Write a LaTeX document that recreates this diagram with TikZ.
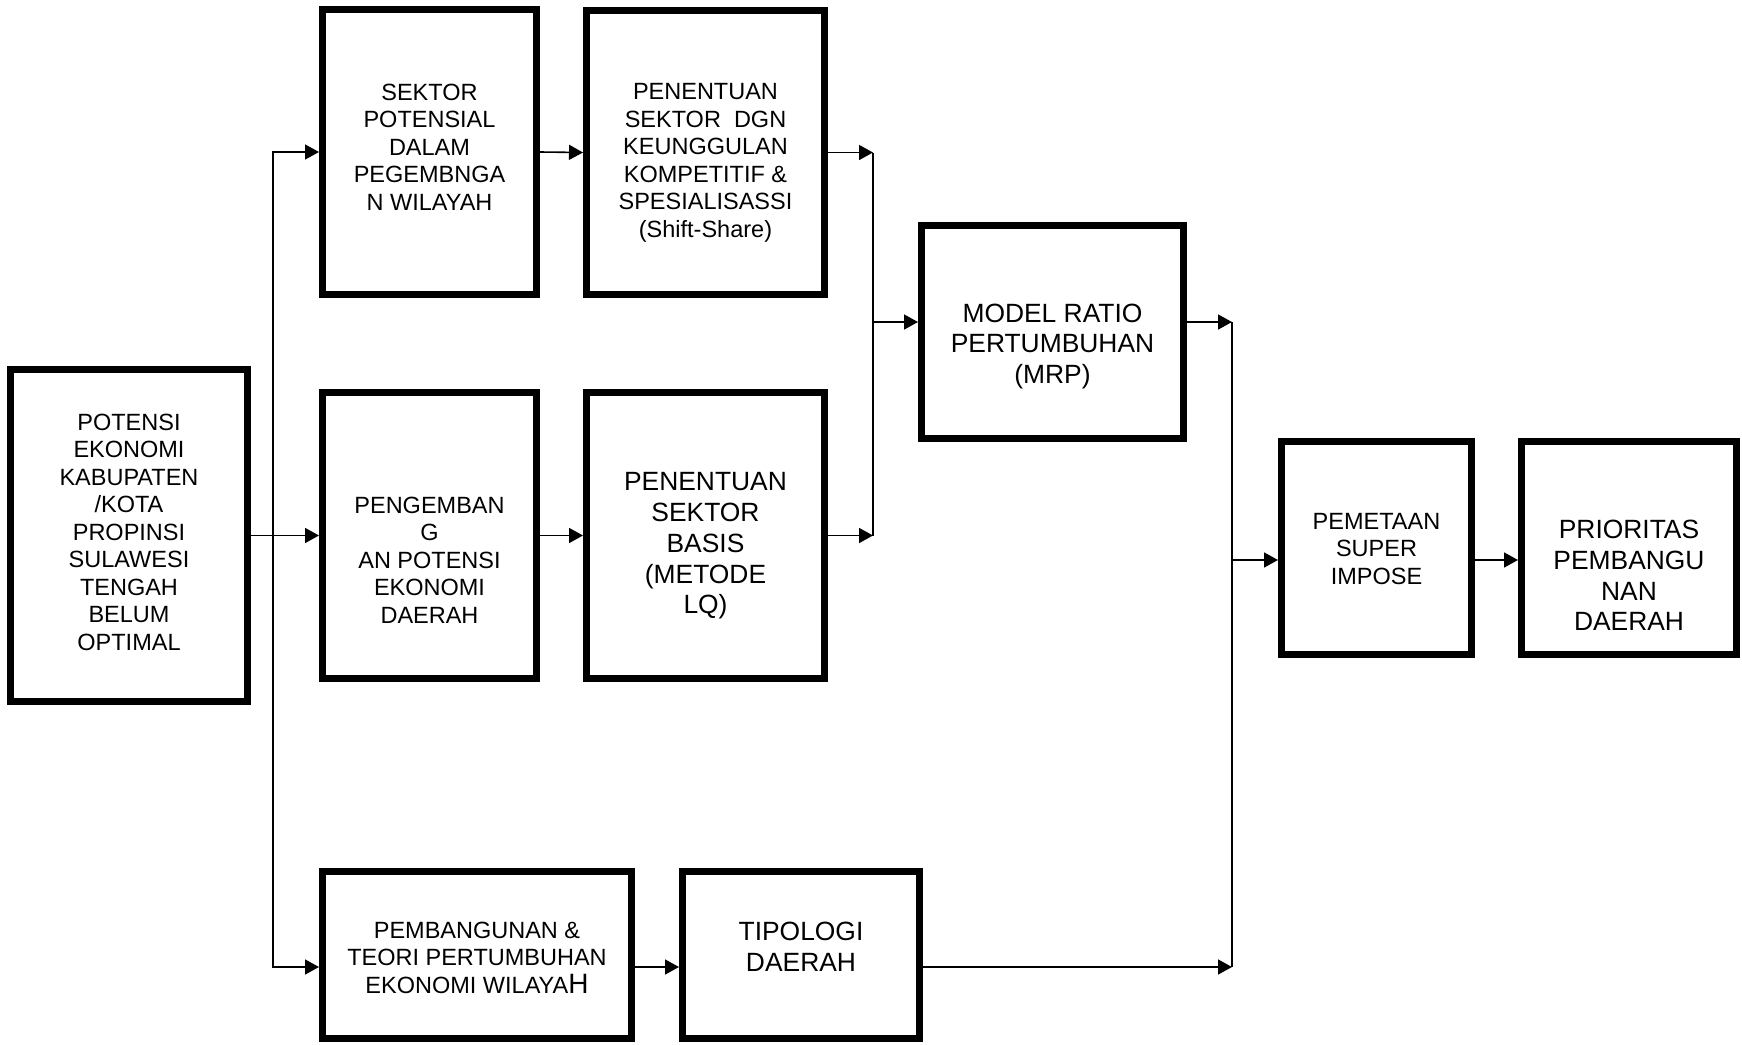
\documentclass[tikz,border=0pt]{standalone}
\usepackage{fontspec}
\setmainfont{Liberation Sans}
\usepackage{tikz}
\usetikzlibrary{arrows.meta}
\usetikzlibrary{positioning}

\begin{document}
\begin{tikzpicture}[
    x=0.5pt, y=-0.5pt,
    box/.style={draw, rectangle, line width=3.5pt, inner sep=0pt},
    txt/.style={align=center, inner sep=0pt, font=\fontsize{11.75}{13.75}\selectfont},
    bigtxt/.style={align=center, inner sep=0pt, font=\fontsize{13.2}{15.4}\selectfont},
    arr/.style={-{Triangle[length=7pt, width=7.5pt]}, line width=0.8pt},
    wire/.style={line width=0.8pt}
]
    \useasboundingbox (0,0) rectangle (1742,1045);

    % Starting box
    \node (potensi) [box, minimum width=118.5pt, minimum height=166pt] at (129,535.5) {};
    \node (potensi-t) [txt] at (129,532) {POTENSI\\EKONOMI\\KABUPATEN\\/KOTA\\PROPINSI\\SULAWESI\\TENGAH\\BELUM\\OPTIMAL};

    % Upper row
    \node (sektor) [box, minimum width=107pt, minimum height=142.5pt] at (429.5,152) {};
    \node (sektor-t) [txt] at (429.5,147) {SEKTOR\\POTENSIAL\\DALAM\\PEGEMBNGA\\N WILAYAH};

    \node (unggul) [box, minimum width=119pt, minimum height=142pt] at (705.5,152.5) {};
    \node (unggul-t) [txt] at (705.5,163) {PENENTUAN\\SEKTOR\ \ DGN\\KEUNGGULAN\\KOMPETITIF \&\\SPESIALISASSI\\(Shift-Share)};

    % Middle row
    \node (kembang) [box, minimum width=107pt, minimum height=143pt] at (429.5,535.5) {};
    \node (kembang-t) [txt] at (429.5,560) {PENGEMBAN\\G\\AN POTENSI\\EKONOMI\\DAERAH};

    \node (basis) [box, minimum width=119pt, minimum height=143pt] at (705.5,535.5) {};
    \node (basis-t) [bigtxt] at (705.5,546) {PENENTUAN\\SEKTOR\\BASIS\\(METODE\\LQ)};

    % Lower row
    \node (teori) [box, minimum width=154.5pt, minimum height=83.5pt] at (477,955) {};
    \node (teori-t) [txt] at (477,957.5) {PEMBANGUNAN \&\\TEORI PERTUMBUHAN\\EKONOMI WILAYA{\fontsize{14}{14}\selectfont H}};

    \node (tipologi) [box, minimum width=118.5pt, minimum height=83.5pt] at (801,955) {};
    \node (tipologi-t) [bigtxt] at (801,946.5) {TIPOLOGI\\DAERAH};

    % Model ratio box
    \node (mrp) [box, minimum width=131pt, minimum height=106.5pt] at (1052.5,332) {};
    \node (mrp-t) [bigtxt] at (1052.5,346.5) {MODEL RATIO\\PERTUMBUHAN\\(MRP)};

    % Final boxes
    \node (superimpose) [box, minimum width=95pt, minimum height=106.5pt] at (1376.5,548) {};
    \node (superimpose-t) [txt] at (1376.5,549) {PEMETAAN\\SUPER\\IMPOSE};

    \node (prioritas) [box, minimum width=107.5pt, minimum height=106.5pt] at (1629,548) {};
    \node (prioritas-t) [bigtxt] at (1629,575.5) {PRIORITAS\\PEMBANGU\\NAN\\DAERAH};

    % Branch points
    \coordinate (split) at (273,535.5);
    \coordinate (row3) at (273,967);
    \coordinate (join1) at (873,322);
    \coordinate (join2) at (1232,560);

    % Branching from the starting box
    \draw[arr] (potensi.east) -- (kembang.west);
    \draw[arr] (split) |- (sektor.west);
    \draw[arr] (split) |- (teori.west |- row3);

    % Along the rows
    \draw[arr] (sektor.east) -- (unggul.west);
    \draw[arr] (kembang.east) -- (basis.west);
    \draw[arr] (teori.east |- row3) -- (tipologi.west |- row3);

    % Into the model ratio box
    \draw[arr] (unggul.east) -- (unggul.east -| join1);
    \draw[arr] (basis.east) -- (basis.east -| join1);
    \draw[wire] (unggul.east -| join1) -- (basis.east -| join1);
    \draw[arr] (join1) -- (join1 -| mrp.west);

    % Into the mapping box
    \draw[arr] (join1 -| mrp.east) -- (join1 -| join2);
    \draw[arr] (tipologi.east |- row3) -- (join2 |- row3);
    \draw[wire] (join1 -| join2) -- (join2 |- row3);
    \draw[arr] (join2) -- (join2 -| superimpose.west);
    \draw[arr] (join2 -| superimpose.east) -- (join2 -| prioritas.west);

\end{tikzpicture}
\end{document}
